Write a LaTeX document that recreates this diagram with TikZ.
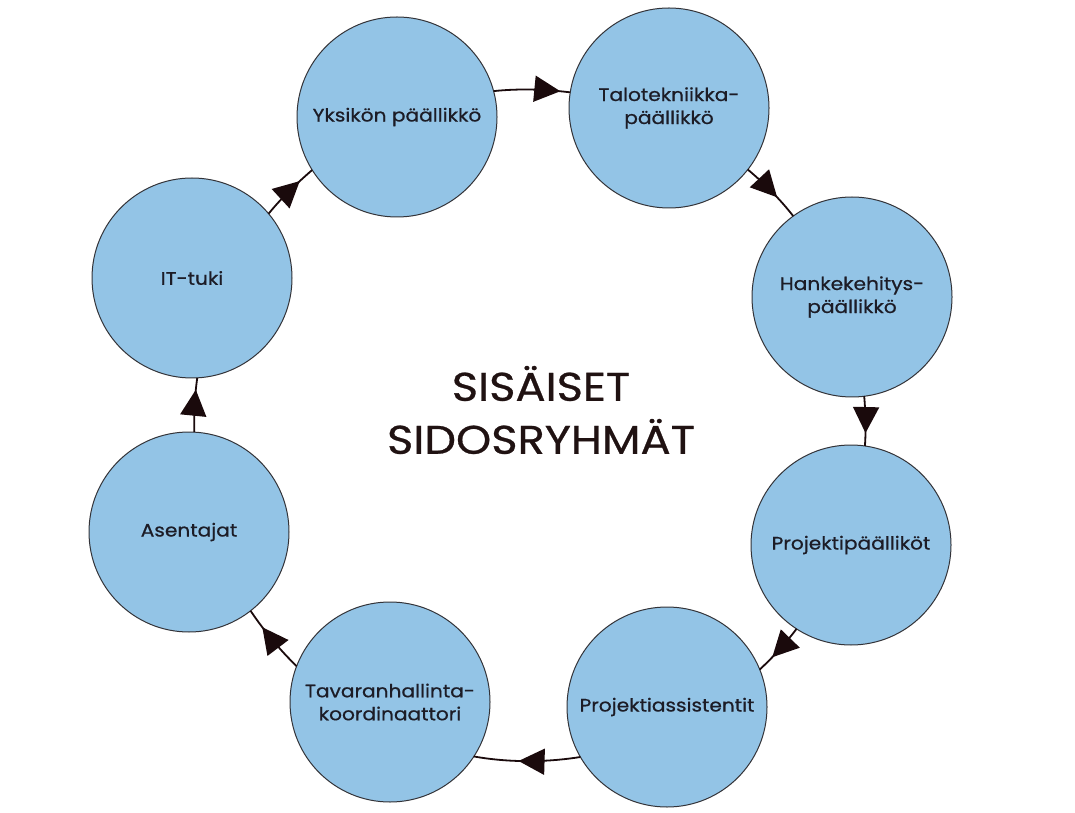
\documentclass[tikz,border=0pt]{standalone}
\usepackage{fontspec}
\setmainfont{Poppins}
\newfontfamily\widefont{Poppins}[FakeStretch=1.12, FakeBold=0.7]
\usetikzlibrary{arrows.meta,decorations.markings}
\definecolor{nodefill}{HTML}{93C4E6}
\definecolor{bordc}{HTML}{333338}
\definecolor{textc}{HTML}{1C1C26}
\definecolor{titlec}{HTML}{201212}
\definecolor{arrowc}{HTML}{1A0A0C}
\tikzset{
  person/.style={circle, draw=bordc, line width=1pt, fill=nodefill,
    minimum size=200pt, inner sep=0pt, outer sep=0pt, align=center,
    font=\widefont\fontsize{18}{23}\selectfont, text=textc},
  conn/.style={draw=arrowc, line width=1.8pt, looseness=0.85,
    postaction={decorate},
    decoration={markings, mark=at position #1 with
      {\arrow[arrowc]{Triangle[length=26pt,width=26pt]}}}}
}
\begin{document}
\begin{tikzpicture}[x=1pt,y=1pt]
\useasboundingbox[fill=white] (0,0) rectangle (1075,812);
\node[person] (A) at (397,695) {Yksikön päällikkö};
\node[person] (B) at (669,704) {Talotekniikka-\\päällikkö};
\node[person] (C) at (852,515) {Hankekehitys-\\päällikkö};
\node[person] (D) at (851,267) {Projektipäälliköt};
\node[person] (E) at (667,105) {Projektiassistentit};
\node[person] (F) at (390,110) {Tavaranhallinta-\\koordinaattori};
\node[person] (G) at (189,280) {Asentajat};
\node[person] (H) at (192,534) {IT-tuki};
\node[font=\widefont\fontsize{40}{53}\selectfont, text=titlec, align=center] (T) at (541,402) {SISÄISET\\SIDOSRYHMÄT};
\draw[conn=0.87] (A.15) to[out=6, in=173] (B.171);
\draw[conn=0.62] (B.322) to[out=-40, in=128] (C.126);
\draw[conn=0.74] (C.277) to[out=-85, in=86] (D.82);
\draw[conn=0.68] (D.237) to[out=-127, in=43] (E.22);
\draw[conn=0.58] (E.210) to[out=-171, in=-10] (F.327);
\draw[conn=0.72] (F.159) to[out=136, in=-56] (G.308);
\draw[conn=0.78] (G.87) to[out=91, in=-98] (H.273);
\draw[conn=0.73] (H.40) to[out=51, in=221] (A.212);
\end{tikzpicture}
\end{document}
